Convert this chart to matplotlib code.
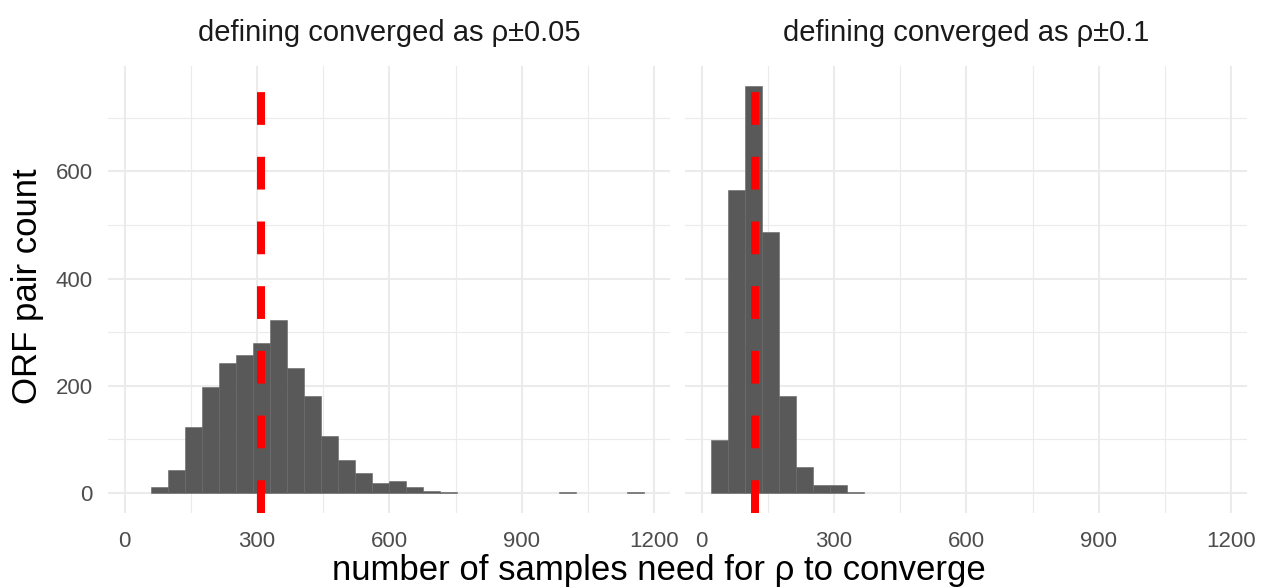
import numpy as np
import matplotlib
matplotlib.use("Agg")
import matplotlib.pyplot as plt

plt.rcParams['font.family'] = ['Liberation Sans', 'DejaVu Sans']

# histogram bins shared by both panels (30 bins)
bin_edges = np.linspace(20, 1178, 31)

panel_titles = ['defining converged as ρ±0.05', 'defining converged as ρ±0.1']

counts_005 = [0, 10, 43, 123, 198, 243, 258, 280, 323, 232,
              180, 106, 61, 36, 19, 22, 10, 4, 2, 0,
              0, 0, 0, 0, 0, 1, 0, 0, 0, 1]
counts_01 = [98, 566, 759, 486, 181, 48, 14, 14, 1, 0,
             0, 0, 0, 0, 0, 0, 0, 0, 0, 0,
             0, 0, 0, 0, 0, 0, 0, 0, 0, 0]
medians = [310, 120]

x_ticks = [0, 300, 600, 900, 1200]
x_minor = [150, 450, 750, 1050]
y_ticks = [0, 200, 400, 600]
y_minor = [100, 300, 500, 700]

fig = plt.figure(figsize=(12.67, 5.88), dpi=100)
W, H = 1267, 588
pw = 562
lefts = [108, 685]
top, bottom = 66, 513

xr = bin_edges[-1] - bin_edges[0]
xlim = (bin_edges[0] - 0.05 * xr, bin_edges[-1] + 0.05 * xr)
ymax = max(max(counts_005), max(counts_01))
ylim = (-0.05 * ymax, 1.05 * ymax)

for i, (counts, med, title) in enumerate(zip([counts_005, counts_01], medians, panel_titles)):
    ax = fig.add_axes([lefts[i] / W, 1 - bottom / H, pw / W, (bottom - top) / H])
    ax.set_facecolor('white')
    for s in ax.spines.values():
        s.set_visible(False)

    # grid
    for v in x_minor:
        ax.axvline(v, color='#ebebeb', lw=0.8, zorder=0)
    for v in y_minor:
        ax.axhline(v, color='#ebebeb', lw=0.8, zorder=0)
    for v in x_ticks:
        ax.axvline(v, color='#ebebeb', lw=1.5, zorder=0)
    for v in y_ticks:
        ax.axhline(v, color='#ebebeb', lw=1.5, zorder=0)

    edge_cols = ['#666666' if c > 0 else 'none' for c in counts]
    ax.bar(bin_edges[:-1], counts, width=np.diff(bin_edges), align='edge',
           color='#595959', edgecolor=edge_cols, linewidth=0.4, zorder=2)
    ax.axvline(med, color='#ff0000', lw=5.75, linestyle=(0, (4.1, 4.0)),
               zorder=3)

    ax.set_xlim(*xlim)
    ax.set_ylim(*ylim)
    ax.set_xticks(x_ticks)
    ax.set_xticklabels([str(t) for t in x_ticks])
    ax.set_yticks(y_ticks)
    if i == 0:
        ax.set_yticklabels([str(t) for t in y_ticks])
    else:
        ax.set_yticklabels([])
    ax.tick_params(length=0, labelsize=16, labelcolor='#4d4d4d', pad=13)
    ax.tick_params(axis='y', pad=11)
    ax.set_title(title, fontsize=21, color='#1a1a1a', pad=18)

fig.text(0.52, 0.03, 'number of samples need for ρ to converge',
         fontsize=25, ha='center', va='center', color='black')
fig.text(0.022, 0.513, 'ORF pair count', fontsize=25, rotation=90,
         ha='center', va='center', color='black')

fig.savefig('out.png', dpi=100, facecolor='white')
